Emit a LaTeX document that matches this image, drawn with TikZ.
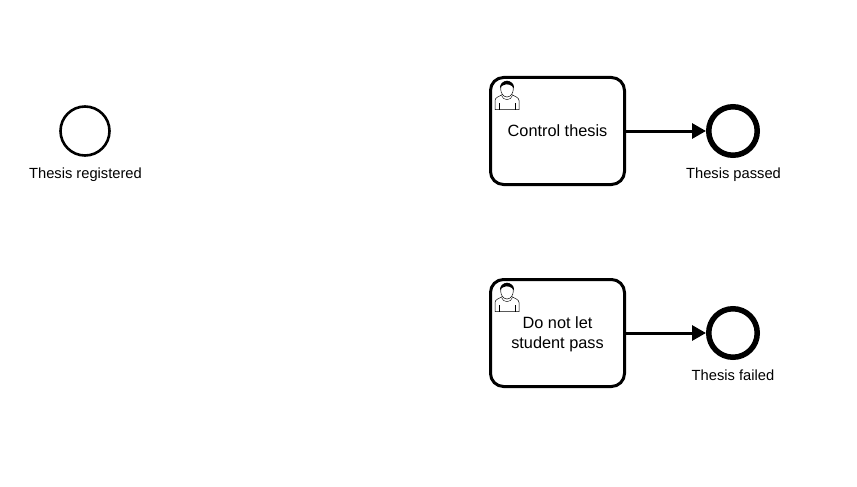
\documentclass[tikz,border=0pt]{standalone}
\usepackage{fontspec}
\setmainfont{Liberation Sans}
\usetikzlibrary{arrows.meta}
\tikzset{
  taskbox/.style={draw=black,line width=3pt,rounded corners=13pt,minimum width=134pt,minimum height=107pt,inner sep=0pt,align=center,font=\fontsize{16.3}{20}\selectfont},
  startev/.style={circle,draw=black,line width=2.6pt,minimum size=49pt,inner sep=0pt},
  endev/.style={circle,draw=black,line width=5.5pt,minimum size=48.5pt,inner sep=0pt},
  evlabel/.style={font=\fontsize{14.7}{16}\selectfont,inner sep=0pt,anchor=base},
  flow/.style={draw=black,line width=3pt,-{Triangle[length=14pt,width=15pt]}},
  usericon/.pic={
    \draw[line width=.5pt,fill=white] (-12,14) -- (-12,5) .. controls (-12,2) and (-8,1) .. (-4.5,-1) -- (4.5,-1) .. controls (8,1) and (12,2) .. (12,5) -- (12,14) -- cycle;
    \draw[line width=.4pt] (-8,14) -- (-8,7) (8,14) -- (8,7);
    \draw[line width=.4pt] (-5.5,0) .. controls (-4,5.5) and (4,5.5) .. (5.5,0);
    \draw[line width=.5pt,fill=white] (0,-6.5) ellipse (6.3pt and 8pt);
    \fill[black] (-7,-7) .. controls (-8,-17) and (8,-17) .. (7,-7) .. controls (5.5,-11) and (-1,-12) .. (-3,-10.5) .. controls (-5,-10) and (-6.5,-9) .. (-7,-7) -- cycle;
  }
}
\begin{document}
\begin{tikzpicture}[x=1pt,y=-1pt]
\useasboundingbox (0,0) rectangle (857,487);
\node[startev] (start) at (85,131) {};
\node[evlabel] (startlabel) at (85.5,178) {Thesis registered};
\node[taskbox] (control) at (557.5,131) {Control thesis};
\node[taskbox] (fail) at (557.5,333) {\rule{0pt}{15pt}Do not let\\student pass};
\node[endev] (passed) at (733,131) {};
\node[endev] (failed) at (733,333) {};
\node[evlabel] (passedlabel) at (733.5,178) {Thesis passed};
\node[evlabel] (failedlabel) at (733,380) {Thesis failed};
\draw[flow] (control) -- (passed);
\draw[flow] (fail) -- (failed);
\pic at (507,95.5) {usericon};
\pic at (507,297.5) {usericon};
\end{tikzpicture}
\end{document}
